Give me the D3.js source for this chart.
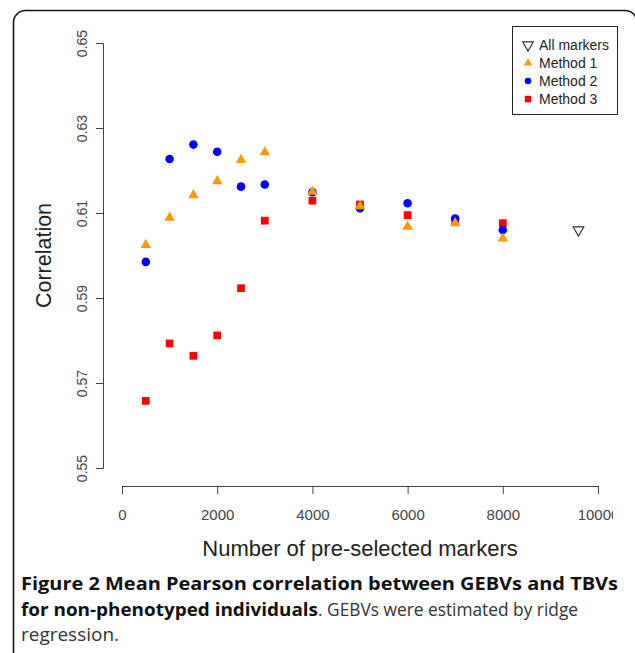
<!DOCTYPE html>
<html>
<head>
<meta charset="utf-8">
<script src="https://cdn.jsdelivr.net/npm/d3@7"></script>
<style>
  body { margin: 0; background: #fff; }
  svg { display: block; }
</style>
</head>
<body>
<div id="chart"></div>
<script>
// number of pre-selected markers
var markers = [500, 1000, 1500, 2000, 2500, 3000, 4000, 5000, 6000, 7000, 8000];
// mean Pearson correlations
var method1 = [0.6025, 0.6089, 0.6142, 0.6175, 0.6225, 0.6243, 0.6150, 0.6116, 0.6068, 0.6076, 0.6040];
var method2 = [0.5985, 0.6227, 0.6261, 0.6244, 0.6162, 0.6167, 0.6149, 0.6111, 0.6123, 0.6087, 0.6060];
var method3 = [0.5658, 0.5793, 0.5764, 0.5812, 0.5923, 0.6082, 0.6129, 0.6120, 0.6095, 0.6082, 0.6076];
var allMarkersX = [9590];
var allMarkersY = [0.6060];

var xTicks = [0, 2000, 4000, 6000, 8000, 10000];
var yTicks = [0.55, 0.57, 0.59, 0.61, 0.63, 0.65];
var legendLabels = ["All markers", "Method 1", "Method 2", "Method 3"];

var W = 635, H = 653;
var orange = "#ff9900", blue = "#0000ff", red = "#ff0000";

var svg = d3.select("#chart").append("svg")
  .attr("width", W)
  .attr("height", H);

/* rounded frame of the figure panel (right side falls just off the page) */
svg.append("rect")
  .attr("x", 13.5).attr("y", 10.5)
  .attr("width", 623.5).attr("height", 700)
  .attr("rx", 12).attr("ry", 12)
  .attr("fill", "none")
  .attr("stroke", "#111")
  .attr("stroke-width", 1.6);

var x = d3.scaleLinear().domain([0, 10000]).range([122, 598]);
var y = d3.scaleLinear().domain([0.55, 0.65]).range([468, 43]);

// the printed figure cuts the last tick label short
svg.append("clipPath").attr("id", "pageclip")
  .append("rect").attr("x", 0).attr("y", 0).attr("width", 613).attr("height", H);

/* x axis */
var gx = svg.append("g")
  .attr("transform", "translate(0,486)")
  .attr("clip-path", "url(#pageclip)")
  .call(d3.axisBottom(x).tickValues(xTicks).tickSize(8).tickSizeOuter(0).tickPadding(15)
        .tickFormat(d3.format("d")));
gx.select(".domain").attr("stroke", "#444");
gx.selectAll(".tick line").attr("stroke", "#444");
gx.selectAll(".tick text")
  .attr("fill", "#444")
  .attr("font-family", "Liberation Sans, Arial, sans-serif")
  .attr("font-size", 15);

/* y axis with vertical labels */
var gy = svg.append("g")
  .attr("transform", "translate(103,0)")
  .call(d3.axisLeft(y).tickValues(yTicks).tickSize(7).tickSizeOuter(0)
        .tickFormat(d3.format(".2f")));
gy.select(".domain").attr("stroke", "#444");
gy.selectAll(".tick line").attr("stroke", "#444");
gy.selectAll(".tick text")
  .attr("fill", "#444")
  .attr("font-family", "Liberation Sans, Arial, sans-serif")
  .attr("font-size", 14)
  .attr("text-anchor", "middle")
  .attr("transform", "rotate(-90)")
  .attr("x", 0)
  .attr("y", -16)
  .attr("dy", 0);

/* axis titles */
svg.append("text")
  .attr("x", 360).attr("y", 556)
  .attr("text-anchor", "middle")
  .attr("font-family", "Liberation Sans, Arial, sans-serif")
  .attr("font-size", 22)
  .attr("fill", "#222")
  .text("Number of pre-selected markers");

svg.append("text")
  .attr("transform", "translate(51,255.5) rotate(-90)")
  .attr("text-anchor", "middle")
  .attr("font-family", "Liberation Sans, Arial, sans-serif")
  .attr("font-size", 21.5)
  .attr("fill", "#222")
  .text("Correlation");

/* marker helpers */
var triUp = d3.symbol().type(d3.symbolTriangle).size(48);
var square = d3.symbol().type(d3.symbolSquare).size(60);

function pts(ys) {
  return markers.map(function(m, i) { return {x: m, y: ys[i]}; });
}

// method 3 first, method 1 on top (as in the figure)
svg.selectAll(".m3")
  .data(pts(method3))
  .enter().append("path")
  .attr("class", "m3")
  .attr("d", square)
  .attr("transform", function(d) { return "translate(" + x(d.x) + "," + y(d.y) + ")"; })
  .attr("fill", red);

svg.selectAll(".m2")
  .data(pts(method2))
  .enter().append("circle")
  .attr("class", "m2")
  .attr("cx", function(d) { return x(d.x); })
  .attr("cy", function(d) { return y(d.y); })
  .attr("r", 4.3)
  .attr("fill", blue);

svg.selectAll(".m1")
  .data(pts(method1))
  .enter().append("path")
  .attr("class", "m1")
  .attr("d", triUp)
  .attr("transform", function(d) { return "translate(" + x(d.x) + "," + y(d.y) + ")"; })
  .attr("fill", orange);

svg.selectAll(".all")
  .data(allMarkersX.map(function(v, i) { return {x: v, y: allMarkersY[i]}; }))
  .enter().append("path")
  .attr("class", "all")
  .attr("d", triUp)
  .attr("transform", function(d) { return "translate(" + x(d.x) + "," + y(d.y) + ") rotate(180)"; })
  .attr("fill", "none")
  .attr("stroke", "#333")
  .attr("stroke-width", 1.2);

/* legend */
var lg = svg.append("g");
lg.append("rect")
  .attr("x", 512.5).attr("y", 26.5)
  .attr("width", 105).attr("height", 88)
  .attr("fill", "#fff")
  .attr("stroke", "#222")
  .attr("stroke-width", 1);

var rowY = [45, 63, 81, 99];
var lx = 528;
lg.append("path").attr("d", triUp)
  .attr("transform", "translate(" + lx + "," + rowY[0] + ") rotate(180)")
  .attr("fill", "none").attr("stroke", "#333").attr("stroke-width", 1.2);
lg.append("path").attr("d", d3.symbol().type(d3.symbolTriangle).size(30))
  .attr("transform", "translate(" + lx + "," + rowY[1] + ")")
  .attr("fill", orange);
lg.append("circle").attr("cx", lx).attr("cy", rowY[2]).attr("r", 3.3).attr("fill", blue);
lg.append("path").attr("d", d3.symbol().type(d3.symbolSquare).size(42))
  .attr("transform", "translate(" + lx + "," + rowY[3] + ")")
  .attr("fill", red);

lg.selectAll(".lgtext")
  .data(legendLabels)
  .enter().append("text")
  .attr("class", "lgtext")
  .attr("x", 539)
  .attr("y", function(d, i) { return rowY[i] + 5; })
  .attr("font-family", "Liberation Sans, Arial, sans-serif")
  .attr("font-size", 14)
  .attr("fill", "#222")
  .text(function(d) { return d; });

/* caption: Open Sans squeezed to the printed line widths */
var capFont = "Open Sans, Noto Sans, sans-serif";
function capText(str, cx, cy, w, bold) {
  return svg.append("text")
    .attr("x", cx).attr("y", cy)
    .attr("font-family", capFont)
    .attr("font-size", 18)
    .attr("font-weight", bold ? "bold" : "normal")
    .attr("fill", bold ? "#111" : "#333")
    .attr("textLength", w)
    .attr("lengthAdjust", "spacingAndGlyphs")
    .text(str);
}
capText("Figure 2 Mean Pearson correlation between GEBVs and TBVs", 21, 590, 597, true);
capText("for non-phenotyped individuals", 21, 616, 297, true);
capText(". GEBVs were estimated by ridge", 318, 616, 260, false);
capText("regression.", 21, 641, 98, false);
</script>
</body>
</html>
